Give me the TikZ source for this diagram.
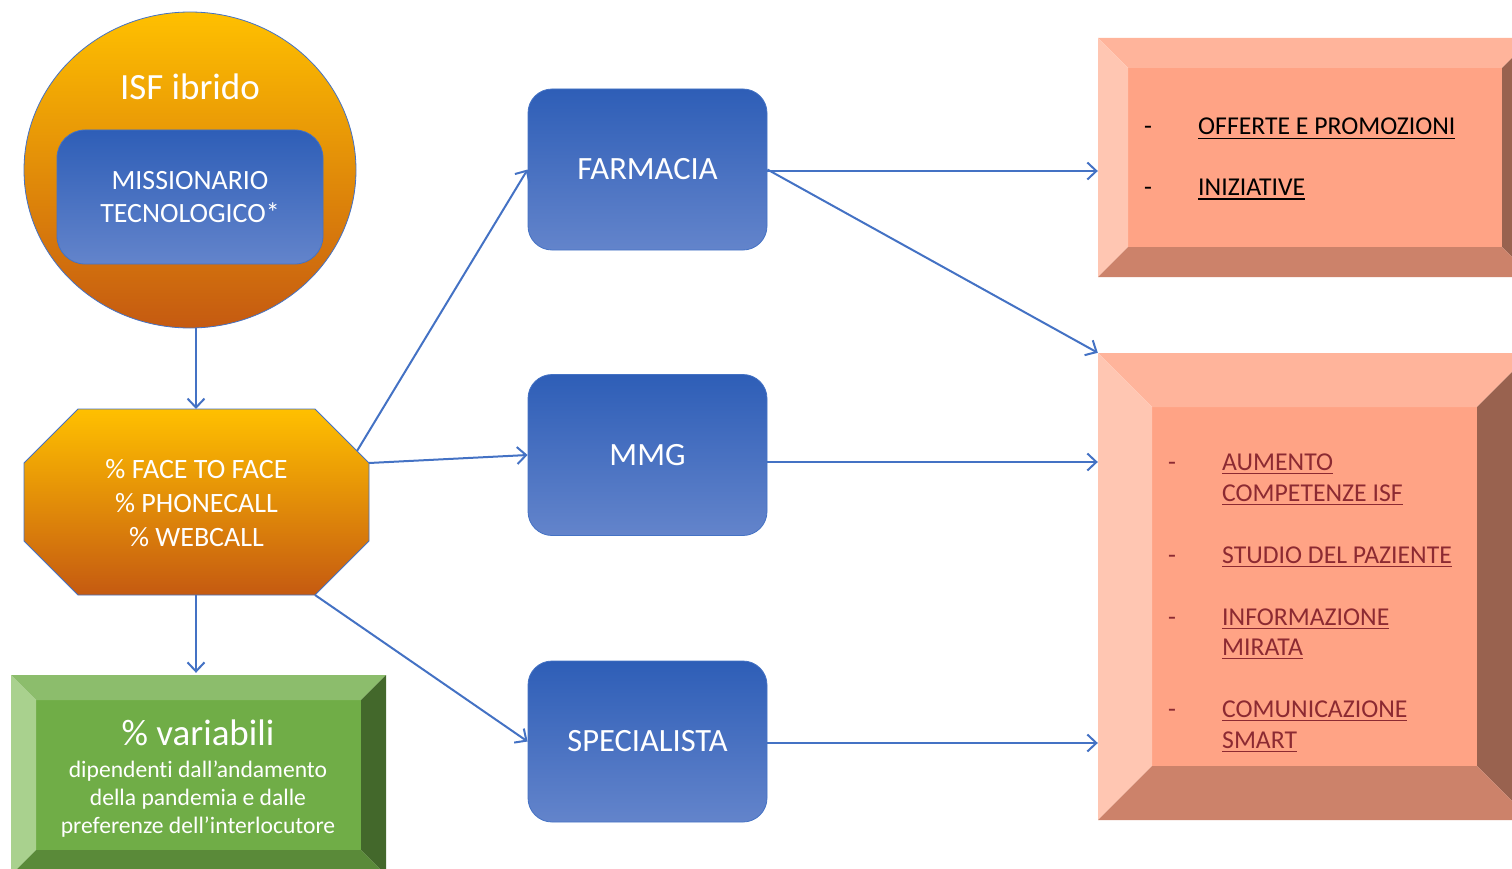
\documentclass[tikz,border=0pt]{standalone}
\usepackage{fontspec}
\setmainfont{Carlito}[Ligatures=NoCommon]
\usetikzlibrary{arrows.meta,positioning,shapes.geometric}

\definecolor{linkblue}{HTML}{4472C4}
\definecolor{boxtop}{HTML}{2E5EB7}
\definecolor{boxbot}{HTML}{6384CB}
\definecolor{isfyellow}{HTML}{FFC000}
\definecolor{isforange}{HTML}{C55A11}
\definecolor{greenmid}{HTML}{70AD47}
\definecolor{greentop}{HTML}{8CBD6C}
\definecolor{greenleft}{HTML}{A9D18E}
\definecolor{greenright}{HTML}{43682B}
\definecolor{greenbot}{HTML}{5A8A39}
\definecolor{salmonmid}{HTML}{FFA385}
\definecolor{salmontop}{HTML}{FFB49B}
\definecolor{salmonleft}{HTML}{FFC6B2}
\definecolor{salmonright}{HTML}{99624F}
\definecolor{salmonbot}{HTML}{CC826A}
\definecolor{darkred}{HTML}{8C2A32}

% bevelled frame: x0/y0/x1/y1/depth/colour prefix
\newcommand{\bevelframe}[6]{%
  \fill[#6mid] (#1+#5,#2+#5) rectangle (#3-#5,#4-#5);
  \fill[#6top] (#1,#2) -- (#3,#2) -- (#3-#5,#2+#5) -- (#1+#5,#2+#5) -- cycle;
  \fill[#6left] (#1,#2) -- (#1+#5,#2+#5) -- (#1+#5,#4-#5) -- (#1,#4) -- cycle;
  \fill[#6right] (#3,#2) -- (#3,#4) -- (#3-#5,#4-#5) -- (#3-#5,#2+#5) -- cycle;
  \fill[#6bot] (#1,#4) -- (#1+#5,#4-#5) -- (#3-#5,#4-#5) -- (#3,#4) -- cycle;
}
% thick underline
\newcommand{\undl}[1]{\leavevmode\vtop{\hbox{#1}\kern2.5pt\hrule height 1.6pt}}

\begin{document}
\begin{tikzpicture}[x=1pt,y=-1pt,
      myarrow/.style={draw=linkblue,line width=2pt,
         -{Straight Barb[length=9pt,width=17pt]}},
      bluebox/.style={
         rectangle,
         rounded corners=24pt,
         draw=linkblue,
         line width=0.8pt,
         top color=boxtop,
         bottom color=boxbot,
         minimum width=239pt,
         minimum height=161pt,
         text=white,
         font=\fontsize{32.5}{39}\selectfont},
      whitetxt/.style={text=white,align=center,inner sep=0pt},
      itemtxt/.style={anchor=base west,inner sep=0pt,font=\fontsize{25.7}{31}\selectfont},
      ghost/.style={rectangle,inner sep=0pt}
      ]
    \useasboundingbox (0,0) rectangle (1512,869);
    \clip (0,0) rectangle (1512,869);

    % left column
    \node[ellipse,draw=linkblue,line width=0.8pt,top color=isfyellow,bottom color=isforange,
       minimum width=332pt,minimum height=316pt,inner sep=0pt] (isf) at (190,170) {};
    \node[whitetxt,font=\fontsize{37}{43}\selectfont] (isflabel) at (190,87) {ISF ibrido};
    \node[bluebox,rounded corners=28pt,minimum width=266pt,minimum height=134pt,align=center,
       font=\fontsize{27.9}{33}\selectfont] (missionario) at (190,197) {MISSIONARIO\\TECNOLOGICO*};

    \shade[top color=isfyellow,bottom color=isforange,draw=linkblue,line width=0.8pt]
       (78,409) -- (315,409) -- (369,463) -- (369,541) -- (315,595) -- (78,595) -- (24,541) -- (24,463) -- cycle;
    \node[whitetxt,font=\fontsize{28}{34}\selectfont] (channels) at (196.5,503)
       {\% FACE TO FACE\\\% PHONECALL\\\% WEBCALL};
    \coordinate (octtop) at (196,409);
    \coordinate (octbot) at (196,595);
    \coordinate (octA) at (357,451);
    \coordinate (octB) at (369,463);
    \coordinate (octC) at (315,595);

    \bevelframe{11}{675}{386}{875}{25}{green}
    \node[ghost,minimum width=375pt,minimum height=200pt] (pandemia) at (198.5,775) {};
    \node[whitetxt,anchor=base,font=\fontsize{37}{44}\selectfont] (variabili) at (198,745) {\% variabili};
    \node[whitetxt,font=\fontsize{23.6}{28}\selectfont,below=15pt of variabili] (dipendenti)
       {dipendenti dall’andamento\\della pandemia e dalle\\preferenze dell’interlocutore};

    % middle column
    \node[bluebox] (farmacia) at (647.5,169.5) {FARMACIA};
    \node[bluebox] (mmg) at (647.5,455) {MMG};
    \node[bluebox] (specialista) at (647.5,741.5) {SPECIALISTA};

    % right column
    \bevelframe{1098}{38}{1532}{277}{30}{salmon}
    \node[ghost,minimum width=434pt,minimum height=239pt] (offerte) at (1315,157.5) {};
    \foreach \y/\txt in {135/OFFERTE E PROMOZIONI,196/INIZIATIVE} {
      \node[itemtxt] (o\y) at (1198,\y) {\undl{\txt}};
      \node[itemtxt] (od\y) at (1144,\y) {-};
    }

    \bevelframe{1098}{353}{1531}{820}{54}{salmon}
    \node[ghost,minimum width=433pt,minimum height=467pt] (azioni) at (1314.5,586.5) {};
    \foreach \y/\txt in {470/AUMENTO,501/COMPETENZE ISF,563/STUDIO DEL PAZIENTE,
                         625/INFORMAZIONE,655/MIRATA,717/COMUNICAZIONE,748/SMART}
      \node[itemtxt,text=darkred] (a\y) at (1222,\y) {\undl{\txt}};
    \foreach \y in {470,563,625,717}
      \node[itemtxt,text=darkred] (ad\y) at (1168,\y) {-};

    % connectors
    \draw[myarrow] (octtop |- isf.south) -- (octtop);
    \draw[myarrow] (octbot) -- ([yshift=2pt]octbot |- pandemia.north);
    \draw[myarrow] (octA) -- (farmacia.west);
    \draw[myarrow] (octB) -- (mmg.west);
    \draw[myarrow] (octC) -- (specialista.west);
    \draw[myarrow] ([yshift=-1.5pt]farmacia.east) -- ([yshift=-1.5pt]farmacia.east -| offerte.west);
    \draw[myarrow] (farmacia.east) -- (azioni.north west);
    \draw[myarrow] ([yshift=-7pt]mmg.east) -- ([yshift=-7pt]mmg.east -| azioni.west);
    \draw[myarrow] ([yshift=-1.5pt]specialista.east) -- ([yshift=-1.5pt]specialista.east -| azioni.west);

\end{tikzpicture}
\end{document}
